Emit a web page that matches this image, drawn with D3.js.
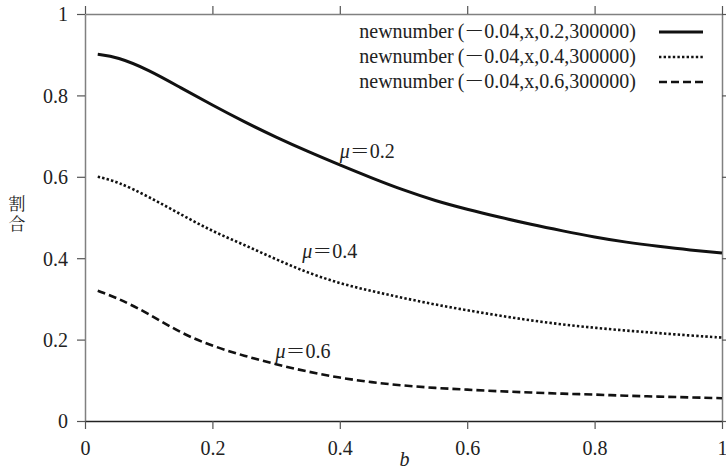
<!DOCTYPE html>
<html>
<head>
<meta charset="utf-8">
<script src="https://cdn.jsdelivr.net/npm/d3@7"></script>
<style>
  body { margin: 0; background: #fff; }
  svg { display: block; }
</style>
</head>
<body>
<svg></svg>
<script>
// Data
const bValues = [0.02, 0.05, 0.1, 0.15, 0.2, 0.25, 0.3, 0.35, 0.4, 0.45, 0.5,
  0.55, 0.6, 0.65, 0.7, 0.75, 0.8, 0.85, 0.9, 0.95, 1.0]
const mu02 = [0.901, 0.895, 0.863, 0.819, 0.776, 0.735, 0.697, 0.662, 0.629, 0.597, 0.567,
  0.541, 0.520, 0.501, 0.483, 0.467, 0.452, 0.439, 0.429, 0.420, 0.413]
const mu04 = [0.600, 0.589, 0.551, 0.508, 0.466, 0.433, 0.397, 0.364, 0.338, 0.319, 0.302,
  0.286, 0.272, 0.259, 0.247, 0.237, 0.229, 0.222, 0.216, 0.210, 0.205]
const mu06 = [0.320, 0.303, 0.264, 0.216, 0.184, 0.160, 0.139, 0.121, 0.106, 0.095, 0.087,
  0.081, 0.077, 0.073, 0.070, 0.067, 0.065, 0.062, 0.060, 0.058, 0.056]
const seriesArgs = ['0.04,x,0.2,300000', '0.04,x,0.4,300000', '0.04,x,0.6,300000']
const muLabels = ['0.2', '0.4', '0.6']
const tickValues = [0, 0.2, 0.4, 0.6, 0.8, 1]
const tickLabels = ['0', '0.2', '0.4', '0.6', '0.8', '1']

// single family names only (lists fall back to sans here)
const SERIF = "'Liberation Serif'"
const MINCHO = "'Noto Serif CJK JP'"

const width = 726
const height = 469
const svg = d3.select('svg').attr('width', width).attr('height', height)

const x = d3.scaleLinear().domain([0, 1]).range([85, 722])
const y = d3.scaleLinear().domain([0, 1]).range([421, 14])

const fmt = (d) => tickLabels[tickValues.indexOf(d)]

// Frame axes
function styleAxis(g, lineColor) {
  g.attr('font-family', null)
  g.select('.domain').attr('stroke', lineColor).attr('stroke-width', 1.5)
  g.selectAll('.tick line').attr('stroke', '#555').attr('stroke-width', 1.2)
  g.selectAll('.tick text')
    .attr('fill', '#222')
    .style('font-family', SERIF)
    .style('font-size', '20px')
}

svg.append('g')
  .attr('transform', `translate(0,${y(1)})`)
  .call(d3.axisTop(x).tickValues(tickValues).tickSize(8).tickSizeOuter(0).tickFormat(''))
  .call((g) => styleAxis(g, '#808080'))

svg.append('g')
  .attr('transform', `translate(${x(1)},0)`)
  .call(d3.axisRight(y).tickValues(tickValues).tickSize(8).tickSizeOuter(0).tickFormat(''))
  .call((g) => styleAxis(g, '#808080'))

svg.append('g')
  .attr('transform', `translate(${x(0)},0)`)
  .call(d3.axisLeft(y).tickValues(tickValues).tickSize(8).tickSizeOuter(0).tickPadding(9).tickFormat(fmt))
  .call((g) => styleAxis(g, '#808080'))
  .call((g) => g.selectAll('.tick text').attr('dy', '0.34em'))

svg.append('g')
  .attr('transform', `translate(0,${y(0)})`)
  .call(d3.axisBottom(x).tickValues(tickValues).tickSize(8).tickSizeOuter(0).tickPadding(10).tickFormat(fmt))
  .call((g) => styleAxis(g, '#222'))
  .call((g) => g.selectAll('.tick text').attr('dy', '0.8em'))

// Axis titles
svg.append('text')
  .attr('x', x(0.5) + 1)
  .attr('y', 466)
  .attr('text-anchor', 'middle')
  .style('font-family', SERIF)
  .style('font-size', '20px')
  .style('font-style', 'italic')
  .attr('fill', '#222')
  .text('b')

;['割', '合'].forEach((ch, i) => {
  svg.append('text')
    .attr('x', 17)
    .attr('y', 210 + i * 20)
    .attr('text-anchor', 'middle')
    .style('font-family', MINCHO)
    .style('font-size', '17px')
    .attr('fill', '#222')
    .text(ch)
})

// Curves
const dashes = [null, '2.4,2.2', '8,4']
const allSeries = [mu02, mu04, mu06]
const line = d3.line()
  .x((d) => x(d[0]))
  .y((d) => y(d[1]))
  .curve(d3.curveBasis)

allSeries.forEach((vals, i) => {
  svg.append('path')
    .datum(bValues.map((b, j) => [b, vals[j]]))
    .attr('d', line)
    .attr('fill', 'none')
    .attr('stroke', '#111')
    .attr('stroke-width', i === 0 ? 3 : 2.6)
    .attr('stroke-dasharray', dashes[i])
})

// Curve labels
const labelAt = [[0.40, 0.646], [0.341, 0.40], [0.299, 0.155]]
muLabels.forEach((m, i) => {
  const t = svg.append('text')
    .attr('x', x(labelAt[i][0]))
    .attr('y', y(labelAt[i][1]))
    .style('font-family', SERIF)
    .style('font-size', '20px')
    .attr('fill', '#222')
  t.append('tspan').style('font-style', 'italic').text('μ')
  t.append('tspan').style('font-family', MINCHO).text('＝')
  t.append('tspan').text(m)
})

// Legend
const legend = svg.append('g')
seriesArgs.forEach((args, i) => {
  const ly = 38 + i * 25
  const t = legend.append('text')
    .attr('x', 636)
    .attr('y', ly)
    .attr('text-anchor', 'end')
    .style('font-family', SERIF)
    .style('font-size', '20px')
    .attr('fill', '#222')
  t.append('tspan').text('newnumber\u2009(')
  t.append('tspan').style('font-family', MINCHO).text('－')
  t.append('tspan').text(args + ')')
  legend.append('line')
    .attr('x1', 659)
    .attr('x2', 703)
    .attr('y1', ly - 6)
    .attr('y2', ly - 6)
    .attr('stroke', '#111')
    .attr('stroke-width', i === 0 ? 3 : 2.6)
    .attr('stroke-dasharray', dashes[i])
})
</script>
</body>
</html>
